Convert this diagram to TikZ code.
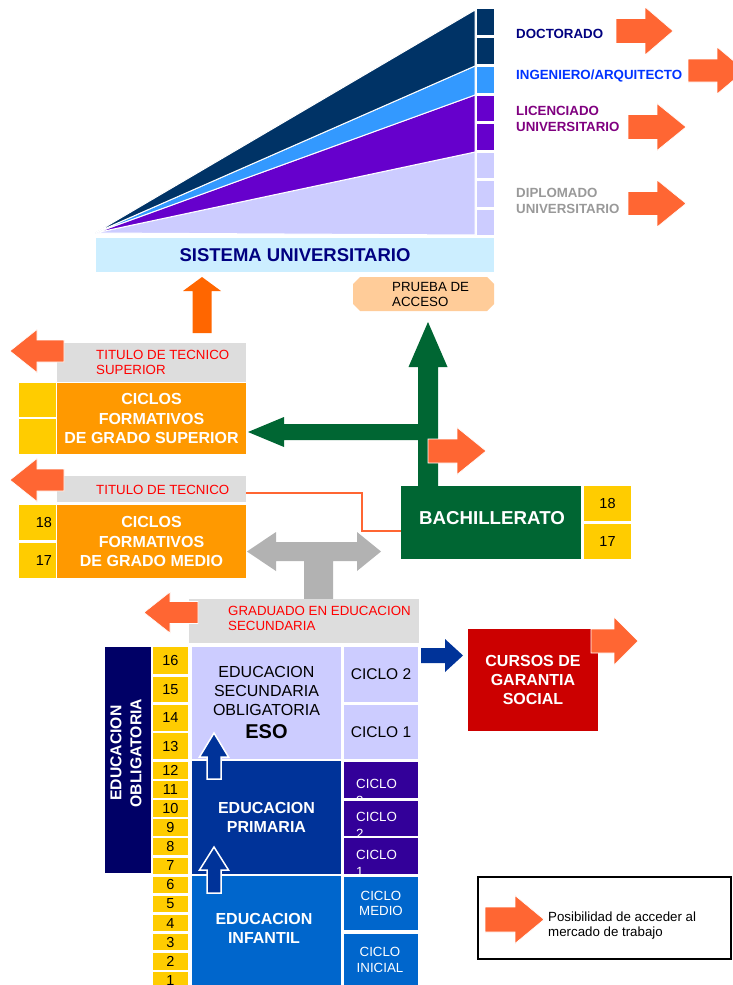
\documentclass[tikz,border=0pt]{standalone}
\usepackage{fontspec}
\setmainfont{Liberation Sans}
\definecolor{jobor}{HTML}{FF6633}
\definecolor{upor}{HTML}{FF6600}
\definecolor{cfor}{HTML}{FF9900}
\definecolor{agey}{HTML}{FFCC00}
\definecolor{titg}{HTML}{DDDDDD}
\definecolor{tarr}{HTML}{B2B2B2}
\definecolor{bachg}{HTML}{006633}
\definecolor{gsred}{HTML}{CC0000}
\definecolor{oblnavy}{HTML}{000066}
\definecolor{primb}{HTML}{003399}
\definecolor{lav}{HTML}{CCCCFF}
\definecolor{cicp}{HTML}{330099}
\definecolor{infb}{HTML}{0066CC}
\definecolor{sisb}{HTML}{CCEEFF}
\definecolor{prueb}{HTML}{FFCC99}
\definecolor{titred}{HTML}{FF0000}
\definecolor{wnavy}{HTML}{003366}
\definecolor{wlblue}{HTML}{3399FF}
\definecolor{wpurp}{HTML}{6600CC}
\definecolor{docc}{HTML}{000080}
\definecolor{ingc}{HTML}{0033FF}
\definecolor{licc}{HTML}{800080}
\definecolor{dipc}{HTML}{999999}
\newcommand{\fsz}[2]{\fontsize{#1}{#2}\selectfont}
% box: name, x1, y1, x2, y2, style, text
\newcommand{\bx}[7]{\node[#6, anchor=north west, inner sep=0pt, outer sep=0pt, minimum width={(#4)-(#2)}, minimum height={(#5)-(#3)}] (#1) at (#2,#3) {#7};}
% horizontal block arrow: tail x, head base x, tip x, centre y, shaft half, head half, style
\newcommand{\blkH}[7]{\path[#7] (#1,#4-#5) -- (#2,#4-#5) -- (#2,#4-#6) -- (#3,#4) -- (#2,#4+#6) -- (#2,#4+#5) -- (#1,#4+#5) -- cycle;}
% vertical block arrow: tail y, head base y, tip y, centre x, shaft half, head half, style
\newcommand{\blkV}[7]{\path[#7] (#4-#5,#1) -- (#4-#5,#2) -- (#4-#6,#2) -- (#4,#3) -- (#4+#6,#2) -- (#4+#5,#2) -- (#4+#5,#1) -- cycle;}
\begin{document}
\begin{tikzpicture}[x=1pt,y=-1pt,
  jobarrow/.style={fill=jobor, draw=white, line width=0.6pt},
  lbl/.style={anchor=west, inner sep=0pt, font=\fsz{13.3}{16}\bfseries, align=left},
  redtxt/.style={anchor=west, inner sep=0pt, text=titred, font=\fsz{13.3}{15}, align=left},
  agetxt/.style={font=\fsz{14.5}{16}},
  bigw/.style={text=white, font=\fsz{16}{19.5}\bfseries, align=center},
  cictext/.style={anchor=north west, inner sep=0pt, text=white, font=\fsz{13.3}{17}, align=left}]
\fill[white] (0,0) rectangle (732,985);
\useasboundingbox (0,0) rectangle (732,985);

% ---------- university wedge ----------
\coordinate (apex) at (95,233);
\path[fill=lav, draw=white, line width=1pt] (apex) -- (475,152) -- (475,235) -- cycle;
\path[fill=wpurp, draw=white, line width=1pt] (apex) -- (475,95) -- (475,152) -- cycle;
\path[fill=wlblue, draw=white, line width=1pt] (apex) -- (475,66) -- (475,95) -- cycle;
\path[fill=wnavy, draw=white, line width=1pt] (apex) -- (475,10) -- (475,66) -- cycle;
\foreach \ty/\by/\cc [count=\i] in {9/35/wnavy, 38/64/wnavy, 67/93/wlblue, 96/121/wpurp, 124/150/wpurp, 153/178/lav, 181/207/lav, 210/235/lav}
  {\bx{sq\i}{477}{\ty}{494}{\by}{fill=\cc}{}}

% ---------- degree labels and job arrows ----------
\node[lbl, text=docc] (doc) at (516,34) {DOCTORADO};
\node[lbl, text=ingc] (ing) at (516,76) {INGENIERO/ARQUITECTO};
\node[lbl, text=licc] (lic) at (516,118.5) {LICENCIADO\\UNIVERSITARIO};
\node[lbl, text=dipc] (dip) at (516,200.5) {DIPLOMADO\\UNIVERSITARIO};
\blkH{616}{645}{673}{31}{12.5}{24}{jobarrow}
\blkH{688}{717}{745}{70.5}{11.5}{23.5}{jobarrow}
\blkH{628}{657}{686}{127}{12.5}{23.5}{jobarrow}
\blkH{628}{657}{686}{203.5}{12}{23.5}{jobarrow}

% ---------- sistema universitario / prueba ----------
\bx{sis}{96}{238}{494}{272}{fill=sisb, text=docc, font=\fsz{18.5}{20}\bfseries}{SISTEMA UNIVERSITARIO}
\fill[prueb] (360,277) -- (487,277) -- (494,284) -- (494,304) -- (487,311) -- (360,311) -- (353,304) -- (353,284) -- cycle;
\node[anchor=west, inner sep=0pt, font=\fsz{13.3}{15}, align=left] (pru) at (392,294.5) {PRUEBA DE\\ACCESO};

% ---------- ciclos formativos grado superior ----------
\blkV{333}{291}{277}{202}{9.5}{19}{fill=upor}
\bx{tts}{57}{343}{246}{382}{fill=titg}{}
\node[redtxt] (ttsT) at (96,362.5) {TITULO DE TECNICO\\SUPERIOR};
\bx{cfgs}{57}{383}{246}{454}{fill=cfor, bigw}{CICLOS\\FORMATIVOS\\DE GRADO SUPERIOR}
\bx{ys1}{19}{383}{56}{417}{fill=agey}{}
\bx{ys2}{19}{419}{56}{454}{fill=agey}{}
\blkH{64}{37}{10}{351}{11}{21.5}{jobarrow}

% ---------- ciclos formativos grado medio ----------
\bx{ttm}{57}{476}{246}{502}{fill=titg}{}
\node[redtxt] (ttmT) at (96,490) {TITULO DE TECNICO};
\bx{cfgm}{57}{505}{246}{578}{fill=cfor, bigw}{CICLOS\\FORMATIVOS\\DE GRADO MEDIO}
\bx{ym1}{19}{505}{56}{540}{fill=agey}{}
\bx{ym2}{19}{543}{56}{578}{fill=agey}{}
\node[agetxt] (ym1T) at (44,522.5) {18};
\node[agetxt] (ym2T) at (44,560.5) {17};
\blkH{64}{37}{10}{480}{11}{21.5}{jobarrow}

% ---------- bachillerato ----------
\bx{bach}{401}{486}{581}{559}{fill=bachg}{}
\node[text=white, font=\fsz{18.7}{20}\bfseries, inner sep=0pt] (bachT) at (492,518) {BACHILLERATO};
\bx{yb1}{584}{486}{631}{521}{fill=agey, agetxt}{18}
\bx{yb2}{584}{524}{631}{559}{fill=agey, agetxt}{17}
\blkV{486}{367}{322}{428}{10}{19.5}{fill=bachg}
\blkH{420}{284}{248}{432}{8}{15}{fill=bachg}
\blkH{428}{457}{486}{451}{12}{23.5}{jobarrow}
\coordinate (lkA) at (362,493);
\coordinate (lkB) at (362,531);
\draw[jobor, line width=2pt] ([yshift=-4pt]ttm.east) -- (lkA) -- (lkB) -- (lkB -| bach.west);

% ---------- grey T arrow ----------
\fill[tarr] (247,551.5) -- (276,532) -- (276,542) -- (357,542) -- (357,532) -- (381,551.5) -- (357,571) -- (357,561) -- (333,561) -- (333,599) -- (304,599) -- (304,561) -- (276,561) -- (276,571) -- cycle;

% ---------- graduado ----------
\bx{grad}{189}{599}{419}{643}{fill=titg}{}
\node[redtxt] (gradT) at (228,618.5) {GRADUADO EN EDUCACION\\SECUNDARIA};
\blkH{198}{170}{144}{612.5}{11}{20.5}{jobarrow}

% ---------- educacion obligatoria ----------
\bx{obl}{105}{647}{151}{873}{fill=oblnavy}{}
\node[rotate=90, text=white, font=\fsz{15.7}{20}\bfseries, align=center, inner sep=0pt] (oblT) at (126,753) {EDUCACION\\OBLIGATORIA};

% ---------- ages ----------
\foreach \a/\ty/\by in {16/647/674, 15/677/702, 14/705/731, 13/733/759}
  {\bx{age\a}{153}{\ty}{188}{\by}{fill=agey, agetxt}{\a}}
\foreach \a in {1,...,12} {
  \pgfmathsetmacro{\ty}{762+(12-\a)*19.1}
  \pgfmathsetmacro{\by}{\ty+16.5}
  \bx{age\a}{153}{\ty}{188}{\by}{fill=agey, agetxt}{\a}}

% ---------- ESO ----------
\bx{eso}{192}{647}{341}{759}{fill=lav, font=\fsz{16}{19}, align=center}{EDUCACION\\SECUNDARIA\\OBLIGATORIA\\[4pt]{\fsz{20}{22}\bfseries ESO}}
\bx{cic2}{344}{647}{418}{702}{fill=lav, font=\fsz{15.5}{18}}{CICLO 2}
\bx{cic1}{344}{705}{418}{759}{fill=lav, font=\fsz{15.5}{18}}{CICLO 1}

% ---------- primaria ----------
\bx{prim}{192}{761}{341}{874}{fill=primb, text=white, font=\fsz{16}{18.5}\bfseries, align=center}{EDUCACION\\PRIMARIA}
\bx{pc3}{344}{762}{418}{798}{fill=cicp}{}
\begin{scope}\clip (344,762) rectangle (418,798);
  \node[cictext] (pc3T) at (356,779) {CICLO\\3};
\end{scope}
\bx{pc2}{344}{801}{418}{836}{fill=cicp}{}
\begin{scope}\clip (344,801) rectangle (418,836);
  \node[cictext] (pc2T) at (356,812.5) {CICLO\\2};
\end{scope}
\bx{pc1}{344}{838}{418}{874}{fill=cicp}{}
\begin{scope}\clip (344,838) rectangle (418,874);
  \node[cictext] (pc1T) at (356,850.5) {CICLO\\1};
\end{scope}

% ---------- infantil ----------
\bx{inf}{192}{876}{341}{990}{fill=infb}{}
\node[text=white, font=\fsz{16}{19}\bfseries, align=center, inner sep=0pt] (infT) at (264,928.5) {EDUCACION\\INFANTIL};
\bx{cm}{344}{877}{418}{930}{fill=infb, text=white, font=\fsz{13.3}{15}, align=center}{CICLO\\MEDIO}
\bx{ci}{344}{934}{418}{990}{fill=infb}{}
\node[text=white, font=\fsz{13.3}{16}, align=center, inner sep=0pt] (ciT) at (380,960) {CICLO\\INICIAL};

% ---------- up arrows ----------
\blkV{779}{757}{733}{214}{7}{14.5}{fill=primb, draw=white, line width=1.5pt}
\blkV{893}{870}{847}{214}{7}{14.5}{fill=primb, draw=white, line width=1.5pt}

% ---------- garantia social ----------
\blkH{421}{445}{463}{655.5}{7.5}{16.5}{fill=primb}
\bx{gs}{468}{629}{598}{731}{fill=gsred, text=white, font=\fsz{16}{19}\bfseries, align=center}{CURSOS DE\\GARANTIA\\SOCIAL}
\blkH{591}{614}{638}{641}{12}{24}{jobarrow}

% ---------- legend ----------
\bx{leg}{478}{877}{731}{959}{draw=black, line width=2pt}{}
\blkH{485}{515}{544}{919.5}{12.5}{24}{jobarrow}
\node[anchor=west, inner sep=0pt, font=\fsz{13.3}{15}, align=left] (legT) at (548,925.5) {Posibilidad de acceder al\\mercado de trabajo};
\end{tikzpicture}
\end{document}
